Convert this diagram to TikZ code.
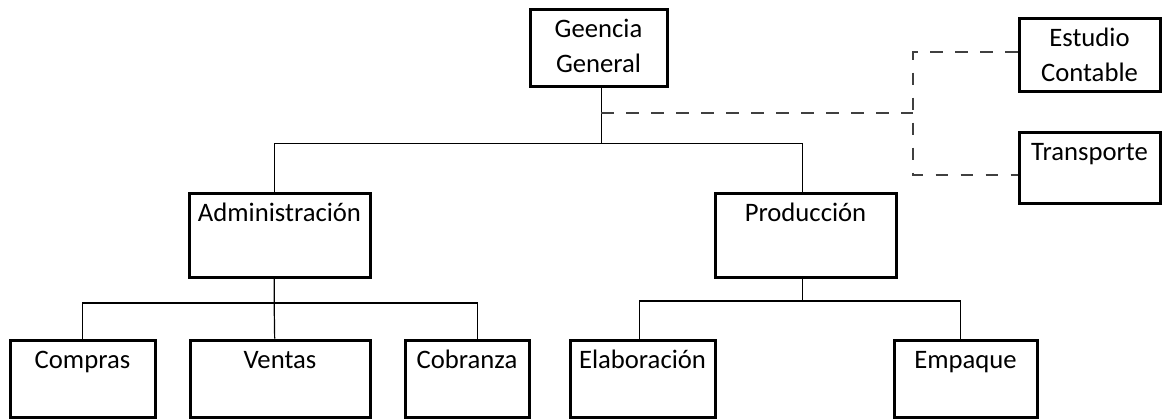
\documentclass[tikz,border=0pt]{standalone}
\usepackage{fontspec}
\setmainfont{Carlito}
\usepackage{tikz}
\usetikzlibrary{positioning}

\begin{document}
\begin{tikzpicture}[x=0.75pt,y=0.75pt,yscale=-1,xscale=1,
  caja/.style={draw, line width=2.25pt, inner sep=0pt},
  texto/.style={font=\fontsize{20}{26.25}\selectfont, inner sep=0pt, align=center},
  linea/.style={line width=0.9pt},
  punteado/.style={color={rgb, 255:red, 64; green, 64; blue, 64 }, line width=1.1pt, dash pattern=on 9.5pt off 9.25pt}]
\useasboundingbox (0,0) rectangle (1163,419);

%Flowchart: Process
\node[caja, minimum width=102.75pt, minimum height=57.75pt] (gg) at (598.5,47.5) {};
%Flowchart: Process
\node[caja, minimum width=105.75pt, minimum height=54.75pt] (est) at (1089.5,54.5) {};
%Flowchart: Process
\node[caja, minimum width=105.75pt, minimum height=53.25pt] (trans) at (1089.5,167.5) {};
%Flowchart: Process
\node[caja, minimum width=135.75pt, minimum height=63pt] (admin) at (279.5,235) {};
%Flowchart: Process
\node[caja, minimum width=135.75pt, minimum height=63pt] (prod) at (805.5,235) {};
%Flowchart: Process
\node[caja, minimum width=108.75pt, minimum height=57.75pt] (compras) at (82.5,378.5) {};
%Flowchart: Process
\node[caja, minimum width=135pt, minimum height=57.75pt] (ventas) at (280,378.5) {};
%Flowchart: Process
\node[caja, minimum width=93pt, minimum height=57.75pt] (cob) at (467,378.5) {};
%Flowchart: Process
\node[caja, minimum width=108.75pt, minimum height=57.75pt] (elab) at (642.5,378.5) {};
%Flowchart: Process
\node[caja, minimum width=107.25pt, minimum height=57.75pt] (emp) at (965.5,378.5) {};

%Straight Lines
\draw[linea] ([xshift=2pt]gg.south) -- ++(0,56) coordinate (j1);
%Straight Lines
\draw[linea] ([xshift=-4pt]admin.north) |- (j1) -| ([xshift=-2.5pt]prod.north);
%Straight Lines
\draw[linea] ([xshift=-4pt]admin.south) -- ++(0,24.5) coordinate (j2) -- ([xshift=-4pt]ventas.north);
%Straight Lines
\draw[linea] (compras.north) |- (j2) -| ([xshift=8pt]cob.north);
%Straight Lines
\draw[linea] ([xshift=-2pt]prod.south) -- ++(0,22.5) coordinate (j3);
%Straight Lines
\draw[linea] ([xshift=-2pt]elab.north) |- (j3) -| ([xshift=-3.5pt]emp.north);

%Dashed Lines
\draw[punteado] ([xshift=2pt,yshift=19pt]gg.south) -- ++(312,0) coordinate (d1);
%Dashed Lines
\draw[punteado] ([yshift=-2pt]est.west) -| (d1) |- ([yshift=5.6pt]trans.west);

% Text Node
\node[texto, below=3.75pt of gg.north] (ggt) {\strut Geencia\\General};
% Text Node
\node[texto, below=3.75pt of est.north] (estt) {\strut Estudio\\Contable};
% Text Node
\node[texto, below=3.75pt of trans.north] (transt) {\strut Transporte};
% Text Node
\node[texto, below=3.75pt of admin.north] (admint) {\strut Administración};
% Text Node
\node[texto, below=3.75pt of prod.north] (prodt) {\strut Producción};
% Text Node
\node[texto, below=3.75pt of compras.north] (comprast) {\strut Compras};
% Text Node
\node[texto, below=3.75pt of ventas.north] (ventast) {\strut Ventas};
% Text Node
\node[texto, below=3.75pt of cob.north] (cobt) {\strut Cobranza};
% Text Node
\node[texto, below=3.75pt of elab.north] (elabt) {\strut Elaboración};
% Text Node
\node[texto, below=3.75pt of emp.north] (empt) {\strut Empaque};

\end{tikzpicture}
\end{document}
